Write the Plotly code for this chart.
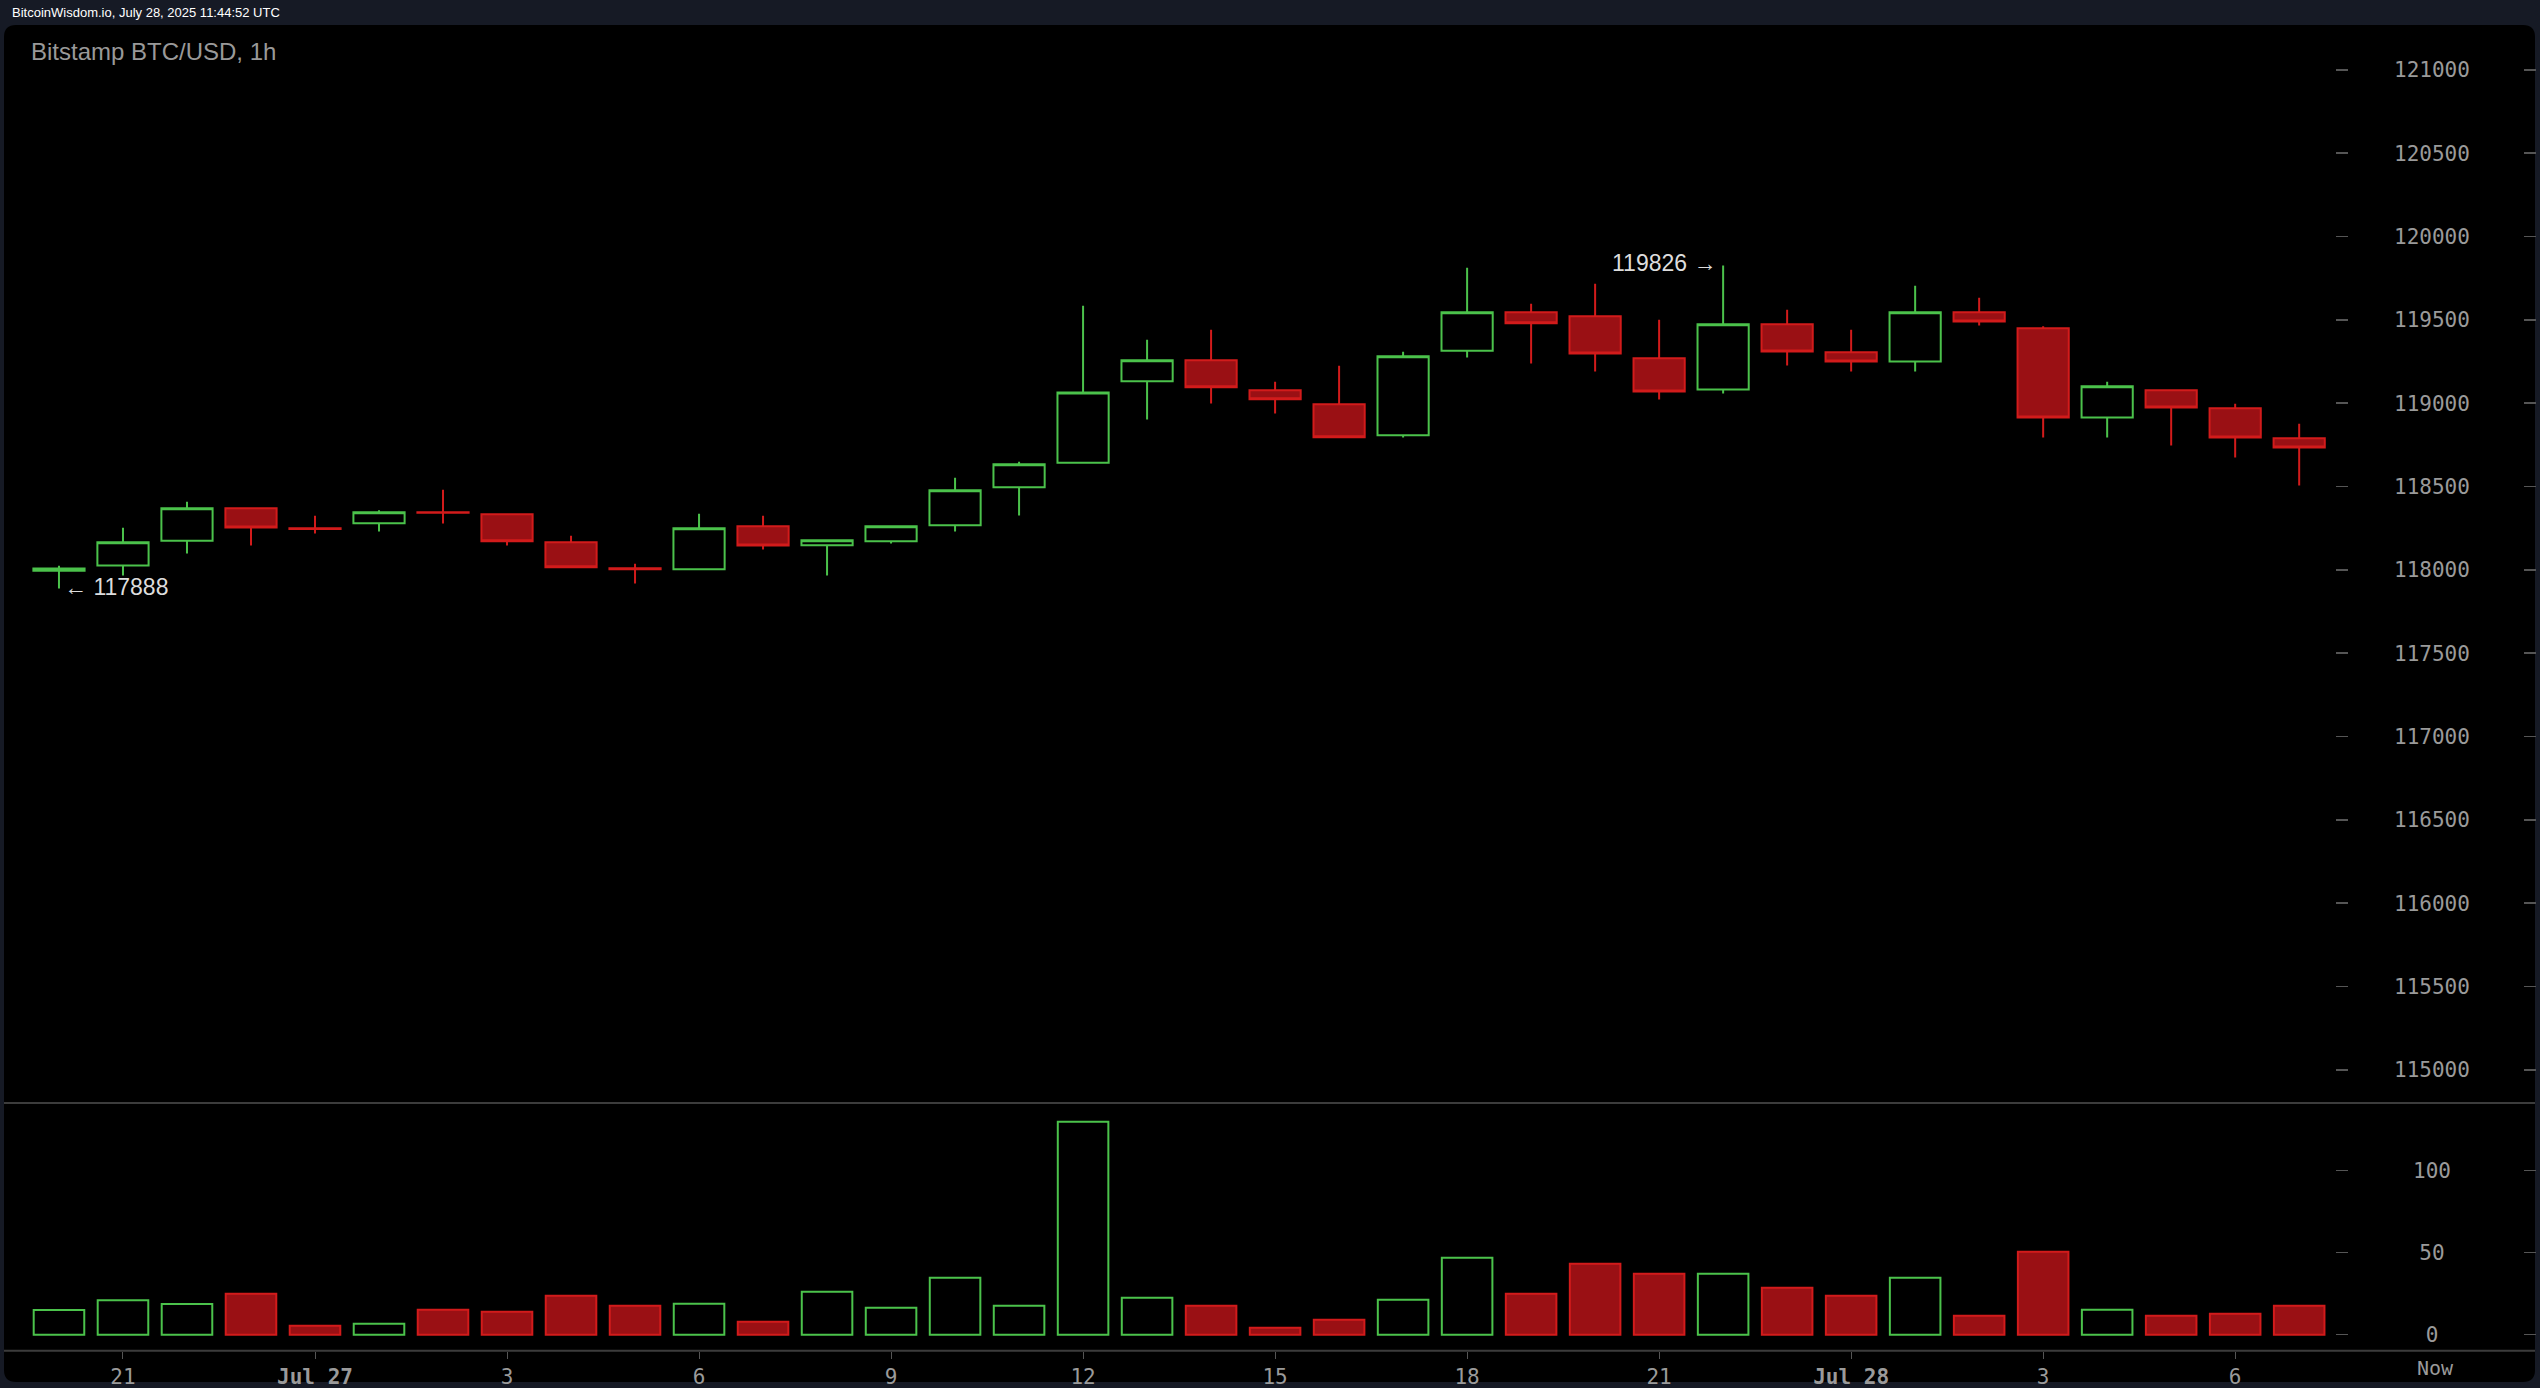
import pandas as pd
import plotly.graph_objects as go

# ---------------- data ----------------
times = pd.date_range("2025-07-26 20:00", periods=36, freq="h")

opens = [117995, 118026, 118174, 118370, 118250, 118280, 118346, 118334, 118166, 118010,
         118004, 118262, 118148, 118172, 118268, 118496, 118642, 119132, 119258, 119078,
         118994, 118808, 119314, 119546, 119522, 119270, 119082, 119474, 119306, 119250,
         119546, 119450, 118914, 119078, 118970, 118790]
highs = [118024, 118252, 118408, 118372, 118324, 118358, 118480, 118340, 118204, 118036,
         118336, 118324, 118180, 118264, 118552, 118648, 119584, 119380, 119440, 119128,
         119224, 119308, 119812, 119596, 119716, 119500, 119826, 119560, 119440, 119704,
         119632, 119462, 119128, 119080, 118996, 118876]
lows = [117888, 117966, 118098, 118146, 118218, 118230, 118278, 118146, 118014, 117918,
        118000, 118122, 117966, 118158, 118230, 118326, 118638, 118902, 118998, 118938,
        118794, 118794, 119274, 119238, 119190, 119022, 119058, 119226, 119190, 119190,
        119466, 118794, 118794, 118746, 118674, 118506]
closes = [118008, 118166, 118370, 118254, 118245, 118346, 118342, 118172, 118016, 118004,
          118250, 118146, 118178, 118262, 118478, 118634, 119064, 119258, 119096, 119024,
          118796, 119282, 119546, 119480, 119298, 119070, 119474, 119310, 119250, 119546,
          119490, 118914, 119102, 118974, 118794, 118734]
volumes = [15, 21, 18.7, 25, 5.5, 6.7, 15.2, 14, 23.8, 17.7,
           18.9, 7.9, 26.2, 16.5, 34.8, 17.7, 129.9, 22.6, 17.7, 4.3,
           9.1, 21.3, 47, 25, 43.3, 37.2, 37.2, 28.7, 23.8, 34.8,
           11.6, 50.6, 15.2, 11.6, 12.8, 17.7]

price_ticks = [115000, 115500, 116000, 116500, 117000, 117500, 118000,
               118500, 119000, 119500, 120000, 120500, 121000]
vol_ticks = [0, 50, 100]
vol_tick_labels = ["<span style='font-size:21px'>\u00a0</span>0",
                   "<span style='font-size:10.5px'>\u00a0</span>50",
                   "100"]

x_tick_times = ["2025-07-26 21:00", "2025-07-27 00:00", "2025-07-27 03:00", "2025-07-27 06:00",
                "2025-07-27 09:00", "2025-07-27 12:00", "2025-07-27 15:00", "2025-07-27 18:00",
                "2025-07-27 21:00", "2025-07-28 00:00", "2025-07-28 03:00", "2025-07-28 06:00"]
x_tick_labels = ["21", "<b>Jul 27</b>", "3", "6", "9", "12", "15", "18", "21",
                 "<b>Jul 28</b>", "3", "6"]

low_label = "\u2190 117888"
high_label = "119826 \u2192"
header_text = "BitcoinWisdom.io, July 28, 2025 11:44:52 UTC"
title_text = "Bitstamp BTC/USD, 1h"

# ---------------- styling ----------------
W, H = 2540, 1388
GREEN = "#4bc24b"
RED_LINE = "#d21b1b"
RED_FILL = "#9a1014"
AX_COL = "#9a9a9a"
TICK_COL = "#555555"
SEP_COL = "#3c3c3c"
MONO = "DejaVu Sans Mono, monospace"
SANS = "Liberation Sans, Arial, sans-serif"


def px(x):
    return x / W


def py(y):
    return 1 - y / H


t0 = times[0]
hour = pd.Timedelta(hours=1)
x_start = t0 - 0.859 * hour
x_end = t0 + 38.70 * hour
now_time = t0 + 37.13 * hour

is_up = [c >= o for o, c in zip(opens, closes)]
vol_fill = ["rgba(0,0,0,0)" if u else RED_FILL for u in is_up]
vol_line = [GREEN if u else RED_LINE for u in is_up]

fig = go.Figure()
fig.add_trace(go.Candlestick(
    x=times, open=opens, high=highs, low=lows, close=closes,
    increasing=dict(line=dict(color=GREEN, width=2), fillcolor="rgba(0,0,0,0)"),
    decreasing=dict(line=dict(color=RED_LINE, width=2), fillcolor=RED_FILL),
    whiskerwidth=0, showlegend=False, hoverinfo="skip",
    xaxis="x", yaxis="y",
))
fig.add_trace(go.Bar(
    x=times, y=volumes, width=0.79 * 3600000,
    marker=dict(color=vol_fill, line=dict(color=vol_line, width=2)),
    showlegend=False, hoverinfo="skip", xaxis="x", yaxis="y2",
))
# helper invisible traces so overlay axes get drawn
fig.add_trace(go.Scatter(x=[times[0]], y=[118000], mode="markers", marker=dict(opacity=0),
                         showlegend=False, hoverinfo="skip", xaxis="x", yaxis="y3"))
fig.add_trace(go.Scatter(x=[times[0]], y=[0], mode="markers", marker=dict(opacity=0),
                         showlegend=False, hoverinfo="skip", xaxis="x", yaxis="y4"))

price_dom = [py(1103), py(25)]
vol_dom = [py(1350.7), py(1103)]
price_rng = [114801, 121269]
vol_rng = [-9.76, 141.3]

axis_common = dict(showgrid=False, zeroline=False, showline=False, fixedrange=True)

# rounded panel
L, T, R, B, r = 4, 25, 2535, 1382, 12
panel_path = (
    f"M {px(L + r)},{py(T)} L {px(R - r)},{py(T)} Q {px(R)},{py(T)} {px(R)},{py(T + r)} "
    f"L {px(R)},{py(B - r)} Q {px(R)},{py(B)} {px(R - r)},{py(B)} "
    f"L {px(L + r)},{py(B)} Q {px(L)},{py(B)} {px(L)},{py(B - r)} "
    f"L {px(L)},{py(T + r)} Q {px(L)},{py(T)} {px(L + r)},{py(T)} Z"
)

shapes = [
    dict(type="path", path=panel_path, xref="paper", yref="paper",
         fillcolor="#000000", line=dict(width=0), layer="below"),
    dict(type="line", xref="paper", yref="paper", x0=px(L), x1=px(R), y0=py(1103), y1=py(1103),
         line=dict(color=SEP_COL, width=2), layer="below"),
    dict(type="line", xref="paper", yref="paper", x0=px(L), x1=px(R), y0=py(1350.7), y1=py(1350.7),
         line=dict(color=SEP_COL, width=2), layer="below"),
]

annotations = [
    dict(text=header_text, x=px(10), y=py(13), xref="paper", yref="paper",
         xanchor="left", yanchor="middle", showarrow=False,
         font=dict(family=SANS, size=13, color="#ffffff")),
    dict(text=title_text, x=px(29), y=py(52), xref="paper", yref="paper",
         xanchor="left", yanchor="middle", showarrow=False,
         font=dict(family=SANS, size=24, color="#999999")),
    dict(text=low_label, x=times[0], y=lows[0], xref="x", yref="y",
         xanchor="left", yanchor="middle", xshift=3, yshift=2, showarrow=False,
         font=dict(family=SANS, size=23, color="#dddddd")),
    dict(text=high_label, x=times[26], y=highs[26], xref="x", yref="y",
         xanchor="right", yanchor="middle", xshift=-5, yshift=3, showarrow=False,
         font=dict(family=SANS, size=23, color="#dddddd")),
    dict(text="Now", x=now_time, y=py(1368), xref="x", yref="paper",
         xanchor="center", yanchor="middle", showarrow=False,
         font=dict(family=MONO, size=20, color=AX_COL)),
]

fig.update_layout(
    width=W, height=H, autosize=False,
    margin=dict(l=0, r=0, t=0, b=0, pad=0),
    paper_bgcolor="#161a25", plot_bgcolor="rgba(0,0,0,0)",
    showlegend=False, boxgap=0.2, boxgroupgap=0, bargap=0,
    shapes=shapes, annotations=annotations,
    xaxis=dict(
        domain=[px(4), px(2536)], anchor="y2", type="date",
        range=[x_start, x_end],
        tickmode="array", tickvals=x_tick_times, ticktext=x_tick_labels,
        ticks="outside", ticklen=7, tickcolor=TICK_COL, tickwidth=1,
        tickfont=dict(family=MONO, size=21, color=AX_COL),
        rangeslider=dict(visible=False), **axis_common,
    ),
    yaxis=dict(
        domain=price_dom, range=price_rng, anchor="x", side="right",
        tickmode="array", tickvals=price_ticks, showticklabels=False,
        ticks="inside", ticklen=12, tickcolor=TICK_COL, tickwidth=1.5, **axis_common,
    ),
    yaxis2=dict(
        domain=vol_dom, range=vol_rng, anchor="x", side="right",
        tickmode="array", tickvals=vol_ticks, showticklabels=False,
        ticks="inside", ticklen=12, tickcolor=TICK_COL, tickwidth=1.5, **axis_common,
    ),
    yaxis3=dict(
        overlaying="y", anchor="free", position=px(2348), side="right", range=price_rng,
        tickmode="array", tickvals=price_ticks, ticktext=[str(v) for v in price_ticks],
        ticks="inside", ticklen=12, tickcolor=TICK_COL, tickwidth=1.5,
        ticklabelstandoff=45,
        tickfont=dict(family=MONO, size=21, color=AX_COL), **axis_common,
    ),
    yaxis4=dict(
        overlaying="y2", anchor="free", position=px(2348), side="right", range=vol_rng,
        tickmode="array", tickvals=vol_ticks, ticktext=vol_tick_labels,
        ticks="inside", ticklen=12, tickcolor=TICK_COL, tickwidth=1.5,
        ticklabelstandoff=64,
        tickfont=dict(family=MONO, size=21, color=AX_COL), **axis_common,
    ),
)

fig.write_html("out.html", config=dict(displayModeBar=False, staticPlot=True),
               post_script="document.body.style.margin='0px';document.body.style.overflow='hidden';")
